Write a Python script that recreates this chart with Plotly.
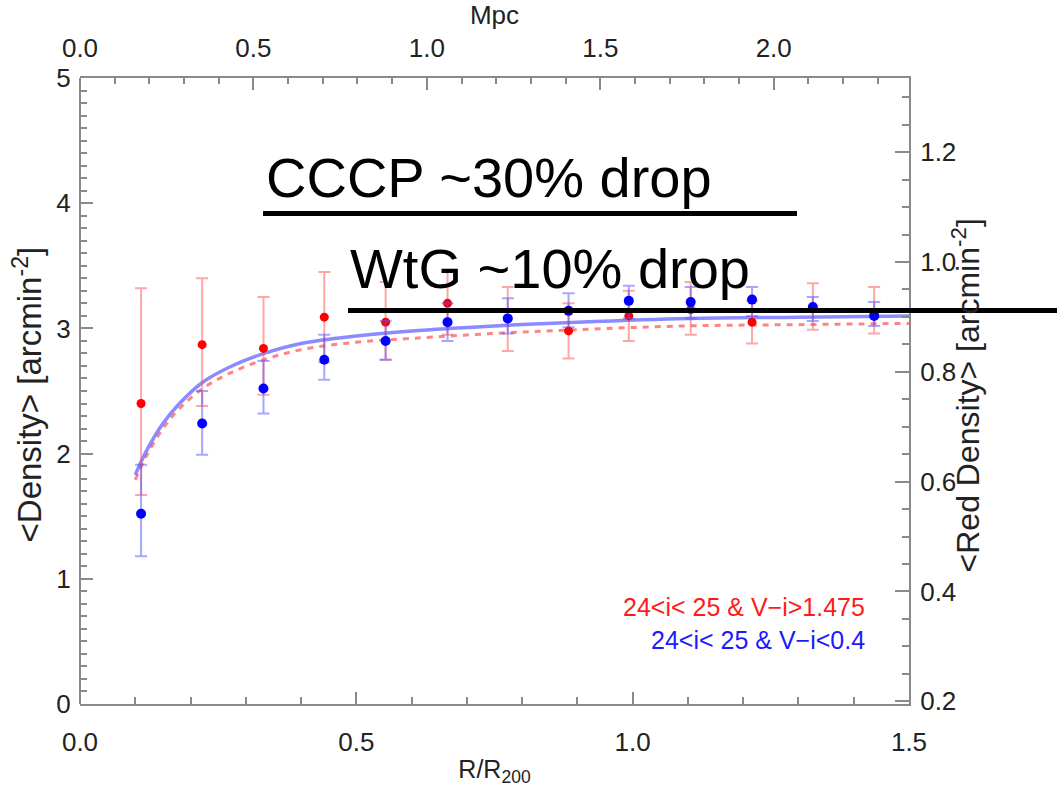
import plotly.graph_objects as go

# ---------------- data ----------------
r_r200 = [0.1105, 0.221, 0.332, 0.442, 0.553, 0.665, 0.774, 0.884, 0.993, 1.105, 1.216, 1.326, 1.437]

red_density = [2.40, 2.87, 2.84, 3.09, 3.05, 3.20, 3.08, 2.98, 3.10, 3.15, 3.05, 3.17, 3.12]
red_err_up = [0.92, 0.53, 0.41, 0.36, 0.32, 0.25, 0.25, 0.22, 0.20, 0.22, 0.17, 0.19, 0.21]
red_err_dn = [0.73, 0.49, 0.37, 0.36, 0.30, 0.25, 0.26, 0.22, 0.20, 0.20, 0.17, 0.18, 0.16]

blue_density = [1.52, 2.24, 2.52, 2.75, 2.90, 3.05, 3.08, 3.14, 3.22, 3.21, 3.23, 3.17, 3.10]
blue_err_up = [0.39, 0.26, 0.22, 0.20, 0.16, 0.15, 0.16, 0.14, 0.12, 0.12, 0.10, 0.08, 0.11]
blue_err_dn = [0.34, 0.25, 0.20, 0.16, 0.15, 0.15, 0.12, 0.13, 0.14, 0.13, 0.13, 0.11, 0.08]

fit_x = [0.10, 0.12, 0.15, 0.18, 0.222, 0.27, 0.333, 0.40, 0.50, 0.60, 0.75, 0.90, 1.10, 1.30, 1.50]
fit_blue = [1.83, 2.02, 2.24, 2.40, 2.57, 2.69, 2.80, 2.88, 2.94, 2.98, 3.02, 3.05, 3.08, 3.09, 3.10]
fit_red = [1.79, 1.98, 2.20, 2.36, 2.52, 2.64, 2.75, 2.83, 2.89, 2.92, 2.96, 2.99, 3.02, 3.03, 3.04]

x_ticks = [0.0, 0.5, 1.0, 1.5]
mpc_ticks = [0.0, 0.5, 1.0, 1.5, 2.0]
red_ticks = [0.2, 0.4, 0.6, 0.8, 1.0, 1.2]

legend_red = "24&lt;i&lt; 25 &amp; V\u2212i&gt;1.475"
legend_blue = "24&lt;i&lt; 25 &amp; V\u2212i&lt;0.4"
note_cccp = "CCCP ~30% drop"
note_wtg = "WtG ~10% drop"

# ---------------- layout geometry (pixels) ----------------
W, H = 1057, 791
L, R, T, B = 80, 909, 72, 705


def px(x):
    return (x - L) / (R - L)


def py(y):
    return (B - y) / (B - T)


FONT = "Liberation Sans, Arial, Helvetica, sans-serif"
AX = "#8a8a8a"
TXT = "#222222"

fig = go.Figure()

fig.add_trace(go.Scatter(x=fit_x, y=fit_red, mode="lines", line_shape="spline",
                         line=dict(color="rgba(255,110,110,0.85)", width=3, dash="6px,6px"),
                         showlegend=False, hoverinfo="skip"))
fig.add_trace(go.Scatter(x=fit_x, y=fit_blue, mode="lines", line_shape="spline",
                         line=dict(color="rgba(110,110,255,0.8)", width=3.5),
                         showlegend=False, hoverinfo="skip"))
fig.add_trace(go.Scatter(x=r_r200, y=red_density, mode="markers",
                         marker=dict(color="#ff0000", size=9),
                         error_y=dict(type="data", symmetric=False, array=red_err_up,
                                      arrayminus=red_err_dn, color="rgba(255,80,80,0.5)",
                                      thickness=2, width=6),
                         showlegend=False))
fig.add_trace(go.Scatter(x=r_r200, y=blue_density, mode="markers",
                         marker=dict(color="#0000ff", size=10),
                         error_y=dict(type="data", symmetric=False, array=blue_err_up,
                                      arrayminus=blue_err_dn, color="rgba(80,80,255,0.5)",
                                      thickness=2, width=6),
                         showlegend=False))
# carrier for the secondary (top/right) axes
fig.add_trace(go.Scatter(x=[None], y=[None], xaxis="x2", yaxis="y2",
                         showlegend=False, hoverinfo="skip"))

axis_common = dict(showline=True, linecolor=AX, linewidth=2, ticks="inside",
                   tickcolor=AX, tickwidth=1.5, showgrid=False, zeroline=False,
                   tickfont=dict(family=FONT, size=26, color=TXT))

fig.update_layout(
    width=W, height=H,
    margin=dict(l=L, r=W - R, t=T, b=H - B),
    paper_bgcolor="white", plot_bgcolor="white",
    showlegend=False,
    xaxis=dict(range=[0, 1.5], tickvals=x_ticks, ticktext=[f"{v:.1f}" for v in x_ticks],
               ticklen=12, ticklabelstandoff=14,
               minor=dict(dtick=0.1, tick0=0, ticks="inside", ticklen=7, tickcolor=AX,
                          tickwidth=1.5, showgrid=False),
               title=dict(text="R/R<sub>200</sub>", font=dict(family=FONT, size=25, color=TXT),
                          standoff=4),
               **axis_common),
    xaxis2=dict(range=[0, 2.39], overlaying="x", side="top", anchor="y",
                tickvals=mpc_ticks, ticktext=[f"{v:.1f}" for v in mpc_ticks],
                ticklen=12, ticklabelstandoff=9,
                minor=dict(dtick=0.1, tick0=0, ticks="inside", ticklen=6, tickcolor=AX,
                           tickwidth=1.5, showgrid=False),
                title=dict(text="Mpc", font=dict(family=FONT, size=26, color=TXT), standoff=2),
                **axis_common),
    yaxis=dict(range=[0, 5], dtick=1, tick0=0, anchor="free", position=0, side="left",
               ticklen=12, ticklabelstandoff=3,
               minor=dict(dtick=0.1, tick0=0, ticks="inside",
                          ticklen=6, tickcolor=AX, tickwidth=1.5, showgrid=False),
               **axis_common),
    yaxis2=dict(range=[0.195, 1.335], overlaying="y", side="right", anchor="x",
                tickvals=red_ticks, ticktext=[f"{v:.1f}" for v in red_ticks],
                ticklen=14, ticklabelstandoff=4,
                minor=dict(dtick=0.05, tick0=0.2, ticks="inside", ticklen=7, tickcolor=AX,
                           tickwidth=1.5, showgrid=False),
                **axis_common),
)

annotations = [
    dict(text="&lt;Density&gt; [arcmin<sup>-2</sup>]", x=px(28), y=py(392), textangle=-90,
         font=dict(family=FONT, size=33, color=TXT)),
    dict(text="&lt;Red Density&gt; [arcmin<sup>-2</sup>]", x=px(966), y=py(393), textangle=-90,
         font=dict(family=FONT, size=32, color=TXT)),
    dict(text=legend_red, x=px(867), y=py(607), xanchor="right",
         font=dict(family=FONT, size=25, color="#ff1a1a")),
    dict(text=legend_blue, x=px(867), y=py(640), xanchor="right",
         font=dict(family=FONT, size=25, color="#1a1aff")),
    dict(text=note_cccp, x=px(264), y=py(173), xanchor="left",
         font=dict(family=FONT, size=56, color="black")),
    dict(text=note_wtg, x=px(348), y=py(265), xanchor="left",
         font=dict(family=FONT, size=56, color="black")),
]
for a in annotations:
    a.setdefault("xref", "paper")
    a.setdefault("yref", "paper")
    a.setdefault("showarrow", False)
    a.setdefault("yanchor", "middle")
    a.setdefault("xanchor", "center")
fig.update_layout(annotations=annotations)

fig.add_shape(type="line", xref="paper", yref="paper", x0=px(263), x1=px(797),
              y0=py(209), y1=py(209), line=dict(color="black", width=5))
fig.add_shape(type="line", xref="paper", yref="paper", x0=px(348), x1=px(1057),
              y0=py(307), y1=py(307), line=dict(color="black", width=5))

fig.write_html("out.html")
